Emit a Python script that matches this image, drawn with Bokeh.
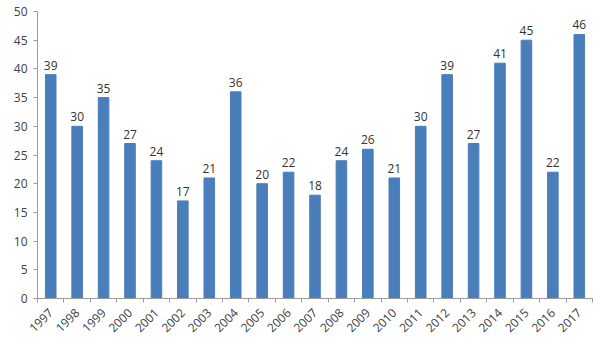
from bokeh.plotting import figure
from bokeh.models import ColumnDataSource, FixedTicker, Range1d, LabelSet
from bokeh.core.properties import value
from bokeh.embed import file_html
from bokeh.resources import INLINE
import math

years = [1997, 1998, 1999, 2000, 2001, 2002, 2003, 2004, 2005, 2006, 2007,
         2008, 2009, 2010, 2011, 2012, 2013, 2014, 2015, 2016, 2017]
values = [39, 30, 35, 27, 24, 17, 21, 36, 20, 22, 18,
          24, 26, 21, 30, 39, 27, 41, 45, 22, 46]
y_ticks = [0, 5, 10, 15, 20, 25, 30, 35, 40, 45, 50]

FONT = "Open Sans"
TXT = "#404040"

src = ColumnDataSource(dict(x=years, top=values, label=[str(v) for v in values]))

p = figure(width=596, height=348, output_backend="svg", toolbar_location=None,
           x_range=Range1d(years[0] - 0.5, years[-1] + 0.5),
           y_range=Range1d(0, 50),
           min_border_left=37, min_border_top=11, min_border_right=4, min_border_bottom=50)
p.outline_line_color = None
p.grid.visible = False
p.background_fill_color = "white"
p.border_fill_color = "white"

p.vbar(x="x", top="top", width=0.4, bottom=0, source=src,
       fill_color="#4A7EBB", line_color="#4A7EBB")

labels = LabelSet(x="x", y="top", text="label", source=src, text_align="center",
                  text_baseline="bottom", y_offset=5, text_font=value(FONT),
                  text_font_size=value("12px"), text_color=value("#333333"))
p.add_layout(labels)

ya = p.yaxis[0]
ya.ticker = FixedTicker(ticks=y_ticks)
ya.axis_line_color = "#9a9a9a"
ya.major_tick_line_color = "#9a9a9a"
ya.major_tick_out = 4
ya.major_tick_in = 0
ya.minor_tick_line_color = None
ya.major_label_text_font = FONT
ya.major_label_text_font_size = "12px"
ya.major_label_text_color = TXT
ya.major_label_standoff = 6

xa = p.xaxis[0]
xa.ticker = FixedTicker(ticks=years, minor_ticks=[y - 0.5 for y in years] + [years[-1] + 0.5])
xa.major_label_overrides = {y: str(y) for y in years}
xa.major_label_orientation = math.pi / 4
xa.axis_line_color = "#9a9a9a"
xa.major_tick_line_color = None
xa.minor_tick_line_color = "#9a9a9a"
xa.minor_tick_out = 4
xa.minor_tick_in = 0
xa.major_label_text_font = FONT
xa.major_label_text_font_size = "12px"
xa.major_label_text_color = TXT
xa.major_label_standoff = 6

open("out.html", "w").write(file_html(p, INLINE))
